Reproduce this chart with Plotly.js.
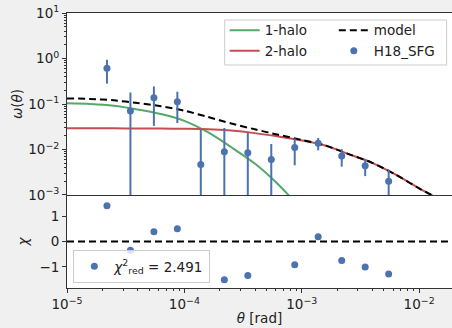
<!DOCTYPE html>
<html><head><meta charset="utf-8">
<script src="https://cdn.plot.ly/plotly-3.0.1.min.js"></script>
<style>html,body{margin:0;padding:0;background:#f0f0f0}</style>
</head><body><div id="chart" style="width:452px;height:328px"></div>
<script>
// Observed data (H18_SFG)
const theta = [2.19e-5, 3.47e-5, 5.50e-5, 8.71e-5, 1.38e-4, 2.19e-4, 3.47e-4, 5.50e-4, 8.71e-4, 1.38e-3, 2.19e-3, 3.47e-3, 5.50e-3];
const omega = [0.61, 0.070, 0.138, 0.112, 0.0047, 0.0089, 0.0085, 0.0060, 0.011, 0.0138, 0.0072, 0.0044, 0.0020];
const omegaErr = [0.33, 0.108, 0.105, 0.074, 0.022, 0.0206, 0.0145, 0.0072, 0.0065, 0.0042, 0.0030, 0.0018, 0.0016];
// residuals
const chi = [1.41, -0.34, 0.38, 0.50, -1.97, -1.51, -1.34, -2.36, -0.91, 0.19, -0.75, -1.00, -1.28];
// model curves
const thetaModel = [1e-5, 1.585e-5, 2.512e-5, 3.981e-5, 6.31e-5, 1e-4, 1.585e-4, 2.512e-4, 3.981e-4, 6.31e-4, 1e-3, 1.585e-3, 2.512e-3, 3.981e-3, 6.31e-3, 1e-2, 1.585e-2];
const oneHalo = [0.1035, 0.100, 0.0912, 0.0759, 0.0603, 0.0427, 0.0240, 0.0112, 0.0049, 0.0017, 0.00047, 0.00011];
const twoHalo = [0.0292, 0.0292, 0.0292, 0.0290, 0.0288, 0.0285, 0.0279, 0.0260, 0.0229, 0.0193, 0.0158, 0.0122, 0.0079, 0.0051, 0.0028, 0.0014, 0.00074];
const model = [0.1327, 0.1292, 0.1204, 0.1049, 0.0891, 0.0712, 0.0519, 0.0372, 0.0278, 0.0210, 0.0163, 0.0123, 0.0079, 0.0051, 0.0028, 0.0014, 0.00074];
// labels
const xTickVals = [1e-5, 1e-4, 1e-3, 1e-2];
const xTickText = ['10<sup>−5</sup>', '10<sup>−4</sup>', '10<sup>−3</sup>', '10<sup>−2</sup>'];
const yTickVals = [1e-3, 1e-2, 1e-1, 1, 10];
const yTickText = ['10<sup>−3</sup>', '10<sup>−2</sup>', '10<sup>−1</sup>', '10<sup>0</sup>', '10<sup>1</sup>'];
const chiTickVals = [-1, 0, 1];
const chiTickText = ['−1', '0', '1'];
const chiRedLabel = '<i>χ</i><sup>2</sup><sub>red</sub> = 2.491';

const BLUE = '#4c72b0', GREEN = '#55a868', RED = '#c44e52';
const FONT = 'DejaVu Sans, sans-serif';

const traces = [
  {x: thetaModel.slice(0, oneHalo.length), y: oneHalo, type: 'scatter', mode: 'lines', name: '1-halo',
   line: {color: GREEN, width: 2, shape: 'spline', smoothing: 0.8}, xaxis: 'x', yaxis: 'y', legend: 'legend'},
  {x: thetaModel, y: twoHalo, type: 'scatter', mode: 'lines', name: '2-halo',
   line: {color: RED, width: 2, shape: 'spline', smoothing: 0.8}, xaxis: 'x', yaxis: 'y', legend: 'legend'},
  {x: thetaModel, y: model, type: 'scatter', mode: 'lines', name: 'model',
   line: {color: '#000', width: 2, dash: '7px,4px', shape: 'spline', smoothing: 0.8}, xaxis: 'x', yaxis: 'y', legend: 'legend2'},
  {x: theta, y: omega, type: 'scatter', mode: 'markers', name: 'H18_SFG',
   marker: {color: BLUE, size: 7},
   error_y: {type: 'data', array: omegaErr, symmetric: true, color: BLUE, thickness: 2, width: 0},
   xaxis: 'x', yaxis: 'y', legend: 'legend2'},
  {x: theta, y: chi, type: 'scatter', mode: 'markers', name: chiRedLabel,
   marker: {color: BLUE, size: 7}, xaxis: 'x2', yaxis: 'y2', legend: 'legend3'}
];

const axisCommon = {
  showline: true, linecolor: '#333', linewidth: 1, ticks: 'outside', ticklen: 4, tickcolor: '#333',
  showgrid: false, zeroline: false, automargin: false,
  tickfont: {family: FONT, size: 13.5, color: '#222'}
};

const layout = {
  width: 452, height: 328,
  paper_bgcolor: '#f0f0f0', plot_bgcolor: '#fff',
  margin: {l: 67, r: 0, t: 13, b: 40},
  font: {family: FONT, size: 13.5, color: '#222'},
  showlegend: true,
  xaxis: Object.assign({}, axisCommon, {
    type: 'log', range: [-5, -1.72], anchor: 'y', matches: 'x2', mirror: true,
    showticklabels: false, ticks: ''
  }),
  yaxis: Object.assign({}, axisCommon, {
    type: 'log', range: [-3, 1], domain: [0.3382, 1], anchor: 'x',
    tickmode: 'array', tickvals: yTickVals, ticktext: yTickText,
    minor: {ticks: 'outside', ticklen: 2, tickcolor: '#333', dtick: 'D1', showgrid: false},
    title: {text: '<i>ω</i>(<i>θ</i>)', font: {family: FONT, size: 13.5, color: '#222'}, standoff: 2}
  }),
  xaxis2: Object.assign({}, axisCommon, {
    type: 'log', range: [-5, -1.72], anchor: 'y2',
    tickmode: 'array', tickvals: xTickVals, ticktext: xTickText,
    minor: {ticks: 'outside', ticklen: 2, tickcolor: '#333', dtick: 'D1', showgrid: false},
    title: {text: '<i>θ</i> [rad]', font: {family: FONT, size: 13.5, color: '#222'}, standoff: 2}
  }),
  yaxis2: Object.assign({}, axisCommon, {
    range: [-1.83, 1.83], domain: [0, 0.3382], anchor: 'x2',
    tickmode: 'array', tickvals: chiTickVals, ticktext: chiTickText,
    title: {text: '<i>χ</i>', font: {family: FONT, size: 13.5, color: '#222'}, standoff: 7}
  }),
  legend: {x: 0.4096, y: 0.993, xanchor: 'left', yanchor: 'top', bgcolor: 'rgba(0,0,0,0)',
           borderwidth: 0, font: {family: FONT, size: 13.5, color: '#222'}, tracegroupgap: 0},
  legend2: {x: 0.693, y: 0.993, xanchor: 'left', yanchor: 'top', bgcolor: 'rgba(0,0,0,0)',
           borderwidth: 0, font: {family: FONT, size: 13.5, color: '#222'}, tracegroupgap: 0},
  legend3: {x: 0.0164, y: 0.138, xanchor: 'left', yanchor: 'top', bgcolor: 'rgba(255,255,255,0.8)',
           bordercolor: '#ccc', borderwidth: 1, font: {family: FONT, size: 13.5, color: '#222'}},
  shapes: [
    {type: 'rect', xref: 'paper', yref: 'paper', x0: 0.4096, x1: 0.986, y0: 0.811, y1: 0.9745,
     fillcolor: 'rgba(255,255,255,0.8)', line: {color: '#ccc', width: 1}, layer: 'above'},
    {type: 'line', xref: 'paper', yref: 'y2', x0: 0, x1: 1, y0: 0, y1: 0,
     line: {color: '#000', width: 2, dash: '7px,4px'}, layer: 'below'}
  ]
};

Plotly.newPlot('chart', traces, layout, {displayModeBar: false, staticPlot: true});
</script>
</body></html>
